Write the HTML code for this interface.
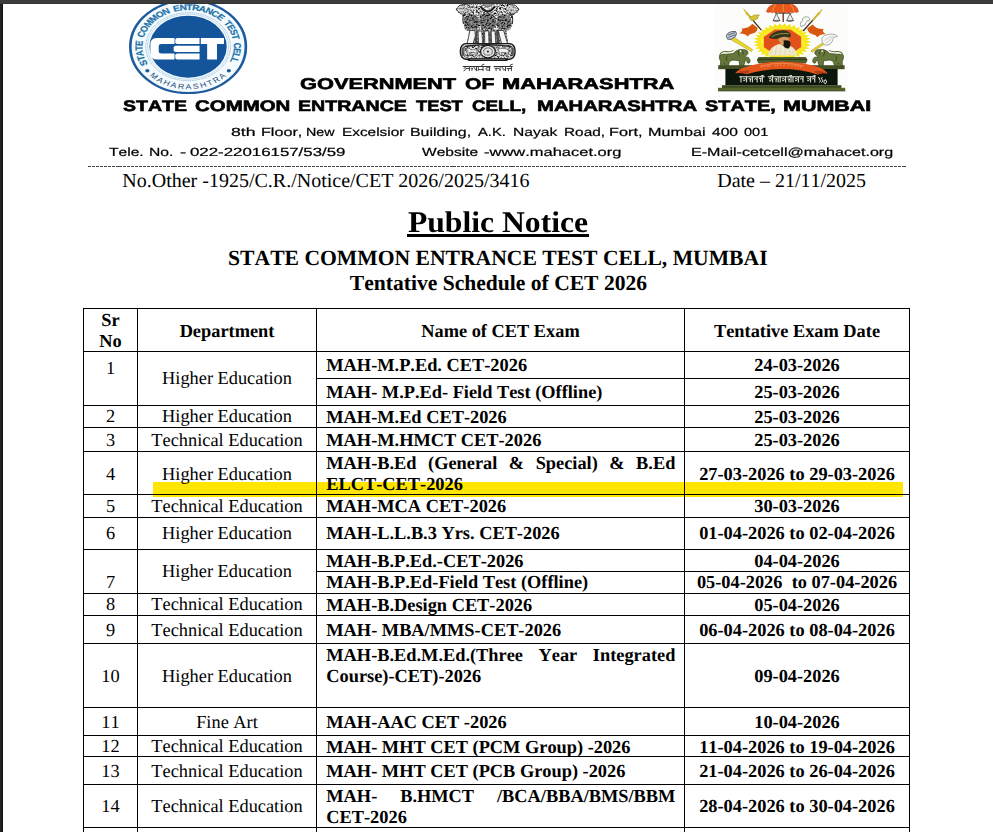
<!DOCTYPE html>
<html><head><meta charset="utf-8"><title>Public Notice - CET 2026</title>
<style>
html,body{margin:0;padding:0;background:#fff;}
body{width:993px;height:832px;position:relative;overflow:hidden;font-family:"Liberation Serif",serif;text-rendering:geometricPrecision;font-kerning:none;}
</style></head><body>
<div style="position:absolute;left:0;top:0;width:993px;height:3px;background:#3c3c3c"></div>
<div style="position:absolute;left:0;top:3px;width:993px;height:1px;background:#323232"></div>
<div style="position:absolute;left:0;top:3px;width:3px;height:1px;background:#3a3a3a"></div>
<div style="position:absolute;left:0;top:4px;width:2px;height:828px;background:#202020"></div>
<div style="position:absolute;left:2px;top:4px;width:1px;height:828px;background:#111"></div>
<svg style="position:absolute;left:120px;top:4px" width="140" height="96" viewBox="120 4 140 96">
<defs>
<path id="cetTop" d="M-32.25,17.51 A36.7,36.7 0 1 1 32.99,16.09"/>
<path id="cetBot" d="M-31.16,29.05 A42.6,42.6 0 0 0 30.90,29.32"/>
</defs>
<g transform="translate(188.1,46.65) scale(1.245,1)">
<circle r="47.6" fill="#f4fbfe"/>
<circle r="46.4" fill="none" stroke="#1d5b9c" stroke-width="2.1"/>
<circle r="34.0" fill="none" stroke="#6a9cc4" stroke-width="0.7" stroke-dasharray="0.8 0.7"/>
<circle r="32.6" fill="none" stroke="#9cc3dc" stroke-width="0.5"/>
<circle r="31.0" fill="#14549a"/>
<text font-family="Liberation Sans, sans-serif" font-weight="bold" font-size="8.1" fill="#2272a8" stroke="#2272a8" stroke-width="0.2" word-spacing="1.6"><textPath href="#cetTop" textLength="148.5" lengthAdjust="spacing">STATE COMMON ENTRANCE TEST CELL</textPath></text>
<text font-family="Liberation Sans, sans-serif" font-size="7.2" fill="#2f4f80"><textPath href="#cetBot" textLength="69" lengthAdjust="spacing">MAHARASHTRA</textPath></text>
<circle cx="-32.72" cy="24.04" r="1.7" fill="#1d5b9c"/>
<circle cx="32.72" cy="24.04" r="1.7" fill="#1d5b9c"/>
<g fill="#fff">
<!-- C -->
<path d="M-10.9,-8.65 H-24.5 Q-30.3,-8.65 -30.3,-3 V7.3 Q-30.3,12.95 -24.5,12.95 H-10.9 V6.9 H-21.5 Q-23.6,6.9 -23.6,4.9 V-0.6 Q-23.6,-2.6 -21.5,-2.6 H-10.9 Z"/>
<!-- E -->
<path d="M-8.6,-8.65 H9.2 V-2.6 H-8.6 Q-10.3,-2.6 -10.3,-4.3 V-6.95 Q-10.3,-8.65 -8.6,-8.65 Z"/>
<path d="M-9.8,-1.0 H9.2 V5.3 H-9.8 Q-11.6,5.3 -11.6,3.5 V0.8 Q-11.6,-1.0 -9.8,-1.0 Z"/>
<path d="M-8.6,6.9 H9.2 V12.95 H-8.6 Q-10.3,12.95 -10.3,11.2 V8.6 Q-10.3,6.9 -8.6,6.9 Z"/>
<!-- T -->
<path d="M10.2,-8.65 H28.8 V-2.6 H23.2 V12.95 H15.3 V-2.6 H10.2 Z"/>
</g>
</g>
</svg>
<svg style="position:absolute;left:450px;top:4px" width="76" height="72" viewBox="450 4 76 72">
<defs>
<filter id="emGrain" x="-5%" y="-5%" width="110%" height="110%" color-interpolation-filters="sRGB">
<feTurbulence type="fractalNoise" baseFrequency="0.55 0.6" numOctaves="2" seed="7" result="n"/>
<feColorMatrix in="n" type="matrix" values="2.6 0 0 0 -0.58  2.6 0 0 0 -0.58  2.6 0 0 0 -0.58  0 0 0 0 1" result="g"/>
<feComposite in="g" in2="SourceAlpha" operator="in" result="gc"/>
<feBlend in="SourceGraphic" in2="gc" mode="multiply"/>
</filter>
<filter id="emSoft" x="-5%" y="-5%" width="110%" height="110%"><feGaussianBlur stdDeviation="0.35"/></filter>
</defs>
<g filter="url(#emSoft)">
<!-- lions / manes -->
<g filter="url(#emGrain)">
<path fill="#ececec" d="M456,9.2 L459.5,5.2 L464,4 L512,4 L515.5,5 L519.2,9.2 L518,12.5 L513.5,15 L512,19 L512.5,24 L510.4,29.5 L506,31.8 L469,31.8 L465,29.5 L463,24 L463.6,19 L462,15 L457.6,12.6 Z"/>
</g>
<!-- darker mane cores -->
<g filter="url(#emGrain)" opacity="0.62">
<ellipse cx="471.4" cy="22.6" rx="7.8" ry="8.8" fill="#555"/>
<ellipse cx="487.7" cy="21.8" rx="8.6" ry="9.6" fill="#555"/>
<ellipse cx="504" cy="22.6" rx="7.8" ry="8.8" fill="#555"/>
<path fill="#999" d="M458,8 l5,-3.2 l5,1 l2,5 l-4,4 l-5,-1.4z M517.4,8 l-5,-3.2 l-5,1 l-2,5 l4,4 l5,-1.4z"/>
</g>
<!-- lighter heads -->
<g fill="#fff" opacity="0.42"><path d="M456.4,9.2 L460,5.4 L466,4.6 L469,9 L466.6,14.6 L460,13.8 Z"/><path d="M518.8,9.2 L515.2,5.4 L509.2,4.6 L506.2,9 L508.6,14.6 L515.2,13.8 Z"/><path d="M479,4 H496.4 L495,10 Q487.7,15 480.4,10 Z"/></g>
<g fill="none" stroke="#2a2a2a" stroke-width="0.8"><path d="M456.2,9.2 L460,5.2 L466.4,4.4 M456.2,9.2 L460.4,13.6 L466.4,14.8 M519,9.2 L515.2,5.2 L508.8,4.4 M519,9.2 L514.8,13.6 L508.8,14.8"/></g>
<!-- central lion face: jaw arc -->
<path d="M480.4,6.2 Q487.7,16.6 495,6.2" fill="none" stroke="#161616" stroke-width="2"/>
<path d="M482.5,4 Q487.7,10 493,4" fill="#9a9a9a" stroke="#333" stroke-width="0.6"/>
<!-- outline hints -->
<path d="M463.4,24 Q461.5,16 466,12 M512.2,24 Q514,16 509.6,12" fill="none" stroke="#222" stroke-width="1"/>
<!-- legs -->
<g filter="url(#emGrain)">
<path fill="#d0d0d0" d="M469.5,29 H506 L508.5,44 H467 Z"/>
</g>
<g fill="#f6f6f6" stroke="#2a2a2a" stroke-width="0.75" stroke-linejoin="round">
<path d="M469.8,30.5 L474.8,30.5 L475.4,36 L473,43.8 L467,43.8 L468.6,37 Z"/>
<path d="M478,31 L481.8,31 L482.6,43.8 L478.6,43.8 Z"/>
<path d="M484.6,31 L488.6,31 L489,43.8 L484.8,43.8 Z"/>
<path d="M491.2,31 L495,31 L495.8,43.8 L491.6,43.8 Z"/>
<path d="M498.4,30.5 L503.6,30.5 L505.6,37 L507.6,43.8 L501.6,43.8 L499.6,36 Z"/>
</g>
<g fill="#4a4a4a"><path d="M475.6,31 h1.6 l0.4,12.4 h-3 z"/><rect x="482.9" y="31.4" width="1.3" height="12"/><rect x="489.4" y="31.4" width="1.4" height="12"/><path d="M496,31 h1.8 l1.8,12.4 h-3 z"/></g>
<!-- abacus -->
<rect x="460.4" y="43.6" width="54.6" height="15.6" rx="5.5" ry="6.5" fill="#d8d8d8" stroke="#1a1a1a" stroke-width="1.4"/>
<g filter="url(#emGrain)"><rect x="462" y="45" width="51.4" height="12.8" rx="4.5" ry="5.5" fill="#dedede"/></g>
<path d="M464.4,46.6 Q487.7,42.6 511,46.6" fill="none" stroke="#222" stroke-width="1.1"/>
<!-- wheel -->
<ellipse cx="487.9" cy="51.6" rx="7.4" ry="6.2" fill="#e6e6e6" stroke="#1d1d1d" stroke-width="1.3"/>
<ellipse cx="487.9" cy="51.6" rx="4.4" ry="3.6" fill="none" stroke="#555" stroke-width="1.5" stroke-dasharray="0.7 0.6"/>
<circle cx="487.9" cy="51.6" r="1.1" fill="#222"/>
<!-- horse (left) & bull (right) -->
<path d="M466.2,48.2 h3.2 l1,1.6 h5.2 l1.2,-1 v6.4 h-1.6 v-3 h-5.6 v3 h-1.6 v-4.6 z" fill="#fafafa" stroke="#333" stroke-width="0.5"/>
<path d="M498.4,48.4 h6.6 l2.6,1 l1.4,2.2 l-1.2,0.6 v3 h-1.6 v-2.6 h-5 v2.6 h-1.6 z" fill="#efefef" stroke="#333" stroke-width="0.5"/>
<rect x="461.6" y="47.4" width="2.2" height="8.6" rx="1" fill="#555"/><rect x="511.6" y="47.4" width="2.2" height="8.6" rx="1" fill="#555"/>
<!-- bottom dark band -->
<rect x="467.4" y="58.2" width="40.6" height="2.7" rx="1.3" fill="#151515"/>
<rect x="470" y="59.2" width="35.4" height="0.6" fill="#8a8a8a"/>
</g>
<!-- motto: satyameva jayate (drawn strokes) -->
<g fill="none" stroke="#303030" stroke-width="0.9" stroke-linecap="round" stroke-linejoin="round" filter="url(#emSoft)">
<path d="M463.1,66.5 H490.2 M494,66.5 H512.3" stroke-width="1.0"/>
<path d="M464,68.1 q1.3,-0.9 2.3,0 q0.5,1 -0.9,1.7 l-1.5,0.9 M466.7,68.5 H469.4 M469.4,66.5 V70.7"/>
<path d="M471,68.3 h2 q-1.6,0.6 -1.2,2.2 M474,67.6 q1.6,0.2 1,1.6 q-0.3,0.8 1.5,0.6 M476.5,66.5 V70.7"/>
<path d="M478.3,66.5 V69.6 H483 M478.3,69.6 q-0.8,0.6 -0.2,1.2 M483,66.5 V70.7 M481.2,66.2 q0.6,-2.1 2.8,-2"/>
<path d="M489.6,67.9 q-3.7,-1 -3.7,1.1 q0,1.8 3.7,0.9 M489.6,66.5 V70.7"/>
<path d="M494.8,68.3 h2.6 q-2.4,0.4 -1.4,2.4 M497.6,68.3 q1.8,0 2.4,1.2 M500,66.5 V70.7"/>
<path d="M502,67.4 q2,0.4 1,2 q-0.4,0.7 2.5,0.4 M505.5,66.5 V70.7"/>
<path d="M507.2,68.5 h2.4 q-2.2,0.6 -1.2,2.3 M509.6,68.5 H511.4 M511.4,66.5 V70.7 M509.8,66.2 q0.4,-2.1 2.6,-2"/>
</g>
</svg>
<svg style="position:absolute;left:712px;top:4px" width="140" height="92" viewBox="712 4 140 92">
<defs><filter id="mhSoft" x="-3%" y="-3%" width="106%" height="106%"><feGaussianBlur stdDeviation="0.45"/></filter>
<radialGradient id="mhSun" cx="50%" cy="50%" r="50%"><stop offset="0.62" stop-color="#fff44a"/><stop offset="0.8" stop-color="#f6e81a"/><stop offset="1" stop-color="#f3e012"/></radialGradient>
</defs>
<g filter="url(#mhSoft)">
<rect x="714.6" y="5.2" width="133" height="87" fill="#fcfcfa"/>
<!-- sun -->
<polygon points="811.2,42.0 806.8,43.5 810.7,45.5 806.0,46.4 809.2,48.8 804.3,49.1 806.9,51.9 801.9,51.6 803.7,54.7 798.9,53.8 799.7,57.1 795.3,55.6 795.2,58.9 791.2,56.9 790.2,60.2 786.8,57.7 785.0,60.8 782.3,58.0 779.6,60.8 777.8,57.7 774.4,60.2 773.4,56.9 769.4,58.9 769.3,55.6 764.9,57.1 765.7,53.8 760.9,54.7 762.7,51.6 757.7,51.9 760.3,49.1 755.4,48.8 758.6,46.4 753.9,45.5 757.8,43.5 753.4,42.0 757.8,40.5 753.9,38.5 758.6,37.6 755.4,35.2 760.3,34.9 757.7,32.1 762.7,32.4 760.9,29.3 765.7,30.2 764.9,26.9 769.3,28.4 769.4,25.1 773.4,27.1 774.4,23.8 777.8,26.3 779.6,23.2 782.3,26.0 785.0,23.2 786.8,26.3 790.2,23.8 791.2,27.1 795.2,25.1 795.3,28.4 799.7,26.9 798.9,30.2 803.7,29.3 801.9,32.4 806.9,32.1 804.3,34.9 809.2,35.2 806.0,37.6 810.7,38.5 806.8,40.5" fill="url(#mhSun)"/>
<!-- left trumpet -->
<path d="M731.5,35.5 L752.6,49.6 L751.4,51.6 L729.4,38.8 Z" fill="#ecd82a" stroke="#a58f1a" stroke-width="0.5"/>
<path d="M726.4,36.2 Q727,31.2 735.6,31.4 Q737.6,33.6 735.2,36.8 Q731,40.6 727.6,39.2 Z" fill="#c9ced6" stroke="#4a5568" stroke-width="0.9"/>
<path d="M728,35 L735,32.6 M728.4,37.4 L735.6,34.6" stroke="#3a4760" stroke-width="0.8" fill="none"/>
<!-- right whisk -->
<path d="M811,50.8 L824.4,41.4 L825.6,43.2 L812,52.4 Z" fill="#e9d42a" stroke="#a58f1a" stroke-width="0.5"/>
<path d="M822.6,42.8 Q819.4,36.2 827.8,34.4 Q835.6,33.2 837.6,36.6 Q833.2,36.4 832.8,39.4 Q832,44.4 826.6,45.2 Q823.6,45.2 822.6,42.8 Z" fill="#f4f4f2" stroke="#9a9a98" stroke-width="0.8"/>
<path d="M824.6,40.6 Q828,36.6 833.6,36.6 M825.8,43 Q829.4,41.6 831,38.6" stroke="#b5b5b2" stroke-width="0.6" fill="none"/>
<!-- left spear + flag -->
<g transform="translate(758,27.4) scale(1.22,1.18) translate(-758,-27.4)"><path d="M742.6,32.6 Q746.2,30.4 744.6,28.2 Q750,28.6 753.4,24.4 L757.6,27.6 Q757.6,31.6 753.6,32.6 Q750.6,33.2 749.6,35.2 Q747.4,32.2 742.6,32.6 Z" fill="#d9580f"/></g>
<path d="M743.6,8.8 L748.2,13.4 L746.6,14.6 Z" fill="#efe032" stroke="#9b8a16" stroke-width="0.4"/>
<path d="M746.8,13.2 L761.4,30.2" stroke="#3a2a12" stroke-width="1.3"/>
<path d="M746.2,12.6 L751.6,18.8" stroke="#d2bf2a" stroke-width="1.6"/>
<path d="M749.4,17.6 Q754.4,13.6 759.4,15 Q757.4,16.6 757.8,18.4 Q753.4,21.6 750.8,20.2 Z" fill="#d6c430" stroke="#8f8a1c" stroke-width="0.5"/>
<!-- right spear + flag -->
<g transform="translate(806.8,28) scale(1.22,1.18) translate(-806.8,-28)"><path d="M822.6,33.4 Q818.8,31 820.6,28.8 Q815,29.2 811.6,25 L807.2,28.2 Q807.4,32.2 811.4,33.2 Q814.4,33.8 815.4,35.8 Q817.8,32.8 822.6,33.4 Z" fill="#d9580f"/></g>
<path d="M822.2,9.2 L817.4,13.8 L819,15 Z" fill="#efe032" stroke="#9b8a16" stroke-width="0.4"/>
<path d="M818.6,13.6 L803.2,31" stroke="#3a2a12" stroke-width="1.3"/>
<path d="M819.2,13 L812.6,20.6" stroke="#d2bf2a" stroke-width="1.6"/>
<path d="M801,26.6 Q799,22.4 802.6,20.6 Q801.6,17.4 806,16.8 Q810.4,16.8 809.6,20.4 Q806.6,20 806.2,22.6 Q805.6,26 801,26.6 Z" fill="#f6f6f4" stroke="#8f8f8c" stroke-width="0.8"/>
<!-- umbrella -->
<path d="M783.2,4 V22" stroke="#6a2c10" stroke-width="1.3"/>
<path d="M766.4,11.6 Q768,4.6 776,4 L790.4,4 Q797.4,5 798.4,11.6 Q796.6,13.4 794.6,11.8 Q792.8,13.6 790.6,12 Q788.6,13.8 786.4,12.2 Q784.6,13.8 782.4,12.2 Q780.4,13.8 778.2,12.2 Q776.2,13.8 774.2,12 Q772.2,13.6 770.2,11.8 Q768.2,13.4 766.4,11.6 Z" fill="#e8581e" stroke="#b23d10" stroke-width="0.5"/>
<path d="M776,4.4 Q773,8 772.4,11.6 M783.2,4.2 V12 M790.4,4.4 Q793.4,8 794,11.6" stroke="#f5b23a" stroke-width="0.7" fill="none"/>
<!-- scales -->
<path d="M775,13.4 H791.6" stroke="#333" stroke-width="0.7"/>
<path d="M776.4,13.6 L773.2,20.4 H779.8 Z M790,13.6 L786.8,20.4 H793.4 Z" fill="#f2f2f0" stroke="#3a3a3a" stroke-width="0.7"/>
<path d="M772.8,20.6 Q776.4,22.6 780.2,20.6 M786.4,20.6 Q790,22.6 793.8,20.6" stroke="#333" stroke-width="0.7" fill="none"/>
<!-- octagon -->
<polygon points="801.5,47.3 790.4,54.8 774.6,54.8 763.5,47.3 763.5,36.7 774.6,29.2 790.4,29.2 801.5,36.7" fill="#e2511c" stroke="#f7d62a" stroke-width="0.9"/>
<!-- portrait -->
<path d="M767.8,55.6 Q769.4,46.6 779,44 L789.6,45.4 Q796.4,48.4 796.8,55.6 Z" fill="#efe9cf"/>
<path d="M770.6,54 L772.4,49 M775,54.6 L776.6,47.4 M780,55 L780.6,46.6 M785,55 L785,47.6 M790,55 L789.4,48.6 M793.6,54.6 L792.6,50.6" stroke="#b8ae84" stroke-width="0.6" stroke-dasharray="0.8 0.8"/>
<path d="M778.6,37.6 Q782.6,34.6 788.4,36.6 Q790.4,40.6 789.2,45.4 Q784.6,47.6 780.8,45 Q780.2,41.6 778.6,40.8 Z" fill="#d49a5e"/>
<path d="M783.4,40.6 Q787.6,39.6 790,41.6 Q791.4,45.6 788.8,48.4 Q784.8,48.8 783.2,45.6 Q784.6,43.4 783.4,40.6 Z" fill="#17130f"/>
<path d="M768.8,37.4 Q772.4,31.4 781,30.4 Q789.6,30 791,35.2 Q790.8,37.4 788.6,37.4 Q783,35.6 778.4,38.4 Q773.6,40.2 768.8,37.4 Z" fill="#33351a"/>
<path d="M772,36.6 Q778,32.6 789,33.8" stroke="#c9b24a" stroke-width="0.7" fill="none"/>
<!-- centre plinth -->
<path d="M758.6,57 H805.8 L807.6,60 L806,63.4 H758.4 L756.8,60 Z" fill="#4d5b29"/>
<path d="M757.6,59.4 H807" stroke="#28320f" stroke-width="0.8"/>
<!-- lions -->
<g id="mhLion"><path d="M720.4,65.6 L720.6,61.4 Q718.6,58.4 719.6,55.6 Q721.6,53.6 726,54.2 L733,53.6 Q735.6,50.6 738.8,49.8 Q742.4,48.8 746.6,50.2 Q748.8,52.2 747.8,54 L746,55.6 Q744.6,56.4 744.2,56.8 L748.4,57.4 Q750.6,59.6 750,62 Q749,64 747.2,62.8 Q747.6,60.6 745.4,60 L743.8,65.6 H739.6 L739.2,60.8 L733,60 Q730.4,60.6 729.4,62 L728.4,65.6 H724.4 L724.6,62.6 L723,65.6 Z" fill="#66773a" stroke="#36421a" stroke-width="0.7"/>
<path d="M719.8,56.6 Q719.4,51.2 726.6,51.6 Q731,52 733.6,50.4" fill="none" stroke="#5d6d30" stroke-width="1.1"/>
<path d="M738.6,50.6 Q737.2,53.6 739.6,56.4 M741.4,50 Q744,51.6 743.2,54.6 M727,55.6 Q725.6,58.6 727,61" fill="none" stroke="#34401a" stroke-width="0.8"/>
<circle cx="740.6" cy="51.2" r="0.9" fill="#e8eadc"/></g>
<use href="#mhLion" transform="translate(1562.8,0) scale(-1,1)"/>
<!-- base -->
<rect x="718.2" y="65.2" width="126.4" height="4" fill="#424f22"/>
<rect x="725.4" y="69" width="112.2" height="16.4" fill="#0f1808"/>
<rect x="722" y="85.2" width="119.4" height="2.8" fill="#3e4a20"/>
<rect x="718" y="87.8" width="127.2" height="2.9" fill="#56642c"/>
<rect x="718" y="90.4" width="127.2" height="0.9" fill="#2c3614"/>
<!-- ribbon -->
<path d="M735.2,73.2 Q738,69.4 744,67.4 Q763,61.4 782,61.4 Q802,61.4 819.4,67.4 Q825.4,69.8 827.8,73.6 Q822,72.4 817.6,74.4 Q800,69 782,69 Q764,69 746.4,74.2 Q741.6,72.4 735.2,73.2 Z" fill="#e5561d"/>
<path d="M735.2,73.2 Q740.6,71.6 746.4,74.2 L750,70.8 Q742,69.8 735.2,73.2 Z M827.8,73.6 Q822.4,72 817.6,74.4 L814,71 Q822,70 827.8,73.6 Z" fill="#b23f14"/>
<!-- ribbon faint text -->
<g stroke="#f0b070" stroke-width="0.6" fill="none">
<path d="M760,66.2 Q771,63.2 782,63.2 Q793,63.2 804,66.2" />
<path d="M762,68 v-1.8 M764.4,67.4 v-1.8 M767,67 q1.2,-1.6 2,0 M770,66.6 v-1.8 M774.4,66 q1.2,-1.4 2.2,0 M778,65.8 v-1.9 M780.6,65.8 v-1.9 M783,65.8 q1.2,-1.6 2.2,0 M788.4,66 v-1.8 M791,66.2 q1.2,-1.4 2,0.2 M795.4,66.8 v-1.8 M798,67.4 v-1.8 M800.6,68 v-1.8"/>
</g>
<!-- white motto on base -->
<g stroke="#f4f4ee" stroke-width="0.95" fill="none" stroke-linecap="round">
<path d="M739.6,76.8 H764.4 M768.2,76.8 H803.6 M806.6,76.8 H815 "/>
<path d="M741,77 v5 M743.6,78.6 q1.6,-1 1.8,1 q-0.2,1.6 -1.8,1.2 M746.6,77 v5 M749,78.8 h2.2 q-1.6,0.8 -1,2.8 M752.4,77 v5 M754.6,79 q1.4,-1.4 2.2,0.2 M757.2,77 v5 M759.4,78.6 h2 q-1.4,1 -0.8,3 M762.4,77 v5 M760.4,76.6 q1.2,-1.8 2.8,-1.2"/>
<path d="M769.4,78.6 q1.8,-1 2,1 q0,1.6 -2,1.4 M772.6,77 v5 M774.8,78.8 h2.2 q-1.4,0.8 -1,3 M778.2,77 v5 M780.2,77 v5 M782.4,78.8 q1.6,-1.2 2,0.6 q0,1.8 -2,1.4 M785.6,77 v5 M787.8,79 h2 q-1.4,1 -0.8,2.8 M791,77 v5 M793,77 v5 M795.4,78.6 q1.6,-1 1.8,0.8 q-0.2,1.8 -1.8,1.4 M798.4,77 v5 M800.4,78.8 q1.6,-1 2.2,0.6 M803,77 v5 M788.6,76.6 q1.4,-1.8 3,-1.2 M770.4,76.6 q1.2,-1.8 2.6,-1.2"/>
<path d="M807.6,78.6 q1.6,-1 1.8,1 q-0.2,1.6 -1.8,1.2 M810.6,77 v5 M812.4,78.8 q1.4,-1.2 2,0.4 M814.8,77 v5 M812.6,76.6 q1.4,-1.8 2.8,-1"/>
<path d="M818.4,77.6 q2.2,0 1,2 q2,0.4 0.2,2.6 M822,77.4 q-1.6,1.6 0.4,2.4 q1.6,1 -0.6,2.4 M825.2,79.8 a1.3,1.9 0 1 0 0.1,0"/>
</g>
</g>
</svg>
<div style="position:absolute;top:75.33px;line-height:19px;height:19px;font-family:'Liberation Sans',sans-serif;font-size:15.5px;white-space:pre;color:#000;font-weight:bold;left:300.05px;transform:scale(1.4056,1.0);transform-origin:left 14.87px;-webkit-text-stroke:0.6px #000;">GOVERNMENT</div>
<div style="position:absolute;top:75.33px;line-height:19px;height:19px;font-family:'Liberation Sans',sans-serif;font-size:15.5px;white-space:pre;color:#000;font-weight:bold;left:464.76px;transform:scale(1.365,1.0);transform-origin:left 14.87px;-webkit-text-stroke:0.6px #000;">OF</div>
<div style="position:absolute;top:75.33px;line-height:19px;height:19px;font-family:'Liberation Sans',sans-serif;font-size:15.5px;white-space:pre;color:#000;font-weight:bold;left:502.01px;transform:scale(1.4096,1.0);transform-origin:left 14.87px;-webkit-text-stroke:0.6px #000;">MAHARASHTRA</div>
<div style="position:absolute;top:97.70px;line-height:18px;height:18px;font-family:'Liberation Sans',sans-serif;font-size:15.3px;white-space:pre;color:#000;font-weight:bold;left:122.59px;transform:scale(1.2751,1.0);transform-origin:left 14.30px;-webkit-text-stroke:0.6px #000;">STATE</div>
<div style="position:absolute;top:97.70px;line-height:18px;height:18px;font-family:'Liberation Sans',sans-serif;font-size:15.3px;white-space:pre;color:#000;font-weight:bold;left:194.68px;transform:scale(1.3361,1.0);transform-origin:left 14.30px;-webkit-text-stroke:0.6px #000;">COMMON</div>
<div style="position:absolute;top:97.70px;line-height:18px;height:18px;font-family:'Liberation Sans',sans-serif;font-size:15.3px;white-space:pre;color:#000;font-weight:bold;left:298.01px;transform:scale(1.2815,1.0);transform-origin:left 14.30px;-webkit-text-stroke:0.6px #000;">ENTRANCE</div>
<div style="position:absolute;top:97.70px;line-height:18px;height:18px;font-family:'Liberation Sans',sans-serif;font-size:15.3px;white-space:pre;color:#000;font-weight:bold;left:416.08px;transform:scale(1.1964,1.0);transform-origin:left 14.30px;-webkit-text-stroke:0.6px #000;">TEST</div>
<div style="position:absolute;top:97.70px;line-height:18px;height:18px;font-family:'Liberation Sans',sans-serif;font-size:15.3px;white-space:pre;color:#000;font-weight:bold;left:472.12px;transform:scale(1.2286,1.0);transform-origin:left 14.30px;-webkit-text-stroke:0.6px #000;">CELL,</div>
<div style="position:absolute;top:97.70px;line-height:18px;height:18px;font-family:'Liberation Sans',sans-serif;font-size:15.3px;white-space:pre;color:#000;font-weight:bold;left:536.68px;transform:scale(1.3263,1.0);transform-origin:left 14.30px;-webkit-text-stroke:0.6px #000;">MAHARASHTRA</div>
<div style="position:absolute;top:97.70px;line-height:18px;height:18px;font-family:'Liberation Sans',sans-serif;font-size:15.3px;white-space:pre;color:#000;font-weight:bold;left:705.49px;transform:scale(1.3009,1.0);transform-origin:left 14.30px;-webkit-text-stroke:0.6px #000;">STATE,</div>
<div style="position:absolute;top:97.70px;line-height:18px;height:18px;font-family:'Liberation Sans',sans-serif;font-size:15.3px;white-space:pre;color:#000;font-weight:bold;left:783.23px;transform:scale(1.4039,1.0);transform-origin:left 14.30px;-webkit-text-stroke:0.6px #000;">MUMBAI</div>
<div style="position:absolute;top:124.61px;line-height:14px;height:14px;font-family:'Liberation Sans',sans-serif;font-size:11.8px;white-space:pre;color:#000;left:231.46px;transform:scale(1.4978,1.0);transform-origin:left 11.09px;-webkit-text-stroke:0.22px #000;">8th</div>
<div style="position:absolute;top:124.61px;line-height:14px;height:14px;font-family:'Liberation Sans',sans-serif;font-size:11.8px;white-space:pre;color:#000;left:260.56px;transform:scale(1.3696,1.0);transform-origin:left 11.09px;-webkit-text-stroke:0.22px #000;">Floor,</div>
<div style="position:absolute;top:124.61px;line-height:14px;height:14px;font-family:'Liberation Sans',sans-serif;font-size:11.8px;white-space:pre;color:#000;left:306.29px;transform:scale(1.2057,1.0);transform-origin:left 11.09px;-webkit-text-stroke:0.22px #000;">New</div>
<div style="position:absolute;top:124.61px;line-height:14px;height:14px;font-family:'Liberation Sans',sans-serif;font-size:11.8px;white-space:pre;color:#000;left:342.31px;transform:scale(1.3024,1.0);transform-origin:left 11.09px;-webkit-text-stroke:0.22px #000;">Excelsior</div>
<div style="position:absolute;top:124.61px;line-height:14px;height:14px;font-family:'Liberation Sans',sans-serif;font-size:11.8px;white-space:pre;color:#000;left:409.97px;transform:scale(1.3493,1.0);transform-origin:left 11.09px;-webkit-text-stroke:0.22px #000;">Building,</div>
<div style="position:absolute;top:124.61px;line-height:14px;height:14px;font-family:'Liberation Sans',sans-serif;font-size:11.8px;white-space:pre;color:#000;left:478.14px;transform:scale(1.2522,1.0);transform-origin:left 11.09px;-webkit-text-stroke:0.22px #000;">A.K.</div>
<div style="position:absolute;top:124.61px;line-height:14px;height:14px;font-family:'Liberation Sans',sans-serif;font-size:11.8px;white-space:pre;color:#000;left:513.10px;transform:scale(1.3215,1.0);transform-origin:left 11.09px;-webkit-text-stroke:0.22px #000;">Nayak</div>
<div style="position:absolute;top:124.61px;line-height:14px;height:14px;font-family:'Liberation Sans',sans-serif;font-size:11.8px;white-space:pre;color:#000;left:563.81px;transform:scale(1.3018,1.0);transform-origin:left 11.09px;-webkit-text-stroke:0.22px #000;">Road,</div>
<div style="position:absolute;top:124.61px;line-height:14px;height:14px;font-family:'Liberation Sans',sans-serif;font-size:11.8px;white-space:pre;color:#000;left:609.45px;transform:scale(1.378,1.0);transform-origin:left 11.09px;-webkit-text-stroke:0.22px #000;">Fort,</div>
<div style="position:absolute;top:124.61px;line-height:14px;height:14px;font-family:'Liberation Sans',sans-serif;font-size:11.8px;white-space:pre;color:#000;left:648.36px;transform:scale(1.3725,1.0);transform-origin:left 11.09px;-webkit-text-stroke:0.22px #000;">Mumbai</div>
<div style="position:absolute;top:124.61px;line-height:14px;height:14px;font-family:'Liberation Sans',sans-serif;font-size:11.8px;white-space:pre;color:#000;left:711.93px;transform:scale(1.3198,1.0);transform-origin:left 11.09px;-webkit-text-stroke:0.22px #000;">400</div>
<div style="position:absolute;top:124.61px;line-height:14px;height:14px;font-family:'Liberation Sans',sans-serif;font-size:11.8px;white-space:pre;color:#000;left:744.30px;transform:scale(1.231,1.0);transform-origin:left 11.09px;-webkit-text-stroke:0.22px #000;">001</div>
<div style="position:absolute;top:145.21px;line-height:14px;height:14px;font-family:'Liberation Sans',sans-serif;font-size:11.8px;white-space:pre;color:#000;left:108.83px;transform:scale(1.3224,1.0);transform-origin:left 11.09px;-webkit-text-stroke:0.22px #000;">Tele.</div>
<div style="position:absolute;top:145.21px;line-height:14px;height:14px;font-family:'Liberation Sans',sans-serif;font-size:11.8px;white-space:pre;color:#000;left:148.79px;transform:scale(1.3251,1.0);transform-origin:left 11.09px;-webkit-text-stroke:0.22px #000;">No.</div>
<div style="position:absolute;top:145.21px;line-height:14px;height:14px;font-family:'Liberation Sans',sans-serif;font-size:11.8px;white-space:pre;color:#000;left:179.83px;transform:scale(1.5773,1.0);transform-origin:left 11.09px;-webkit-text-stroke:0.22px #000;">-</div>
<div style="position:absolute;top:145.21px;line-height:14px;height:14px;font-family:'Liberation Sans',sans-serif;font-size:11.8px;white-space:pre;color:#000;left:190.45px;transform:scale(1.4273,1.0);transform-origin:left 11.09px;-webkit-text-stroke:0.22px #000;">022-22016157/53/59</div>
<div style="position:absolute;top:145.21px;line-height:14px;height:14px;font-family:'Liberation Sans',sans-serif;font-size:11.8px;white-space:pre;color:#000;left:421.94px;transform:scale(1.3178,1.0);transform-origin:left 11.09px;-webkit-text-stroke:0.22px #000;">Website</div>
<div style="position:absolute;top:145.21px;line-height:14px;height:14px;font-family:'Liberation Sans',sans-serif;font-size:11.8px;white-space:pre;color:#000;left:484.19px;transform:scale(1.3976,1.0);transform-origin:left 11.09px;-webkit-text-stroke:0.22px #000;">-www.mahacet.org</div>
<div style="position:absolute;top:145.21px;line-height:14px;height:14px;font-family:'Liberation Sans',sans-serif;font-size:11.8px;white-space:pre;color:#000;left:690.66px;transform:scale(1.3626,1.0);transform-origin:left 11.09px;-webkit-text-stroke:0.22px #000;">E-Mail-cetcell@mahacet.org</div>
<div style="position:absolute;left:87.6px;top:166px;width:818.6px;height:1px;background:repeating-linear-gradient(90deg,#454545 0,#454545 3.0px,rgba(0,0,0,0) 3.0px,rgba(0,0,0,0) 3.93px)"></div>
<div style="position:absolute;top:168.95px;line-height:24px;height:24px;font-family:'Liberation Serif',serif;font-size:20px;white-space:pre;color:#000;left:122.30px;">No.Other -1925/C.R./Notice/CET 2026/2025/3416</div>
<div style="position:absolute;top:168.95px;line-height:24px;height:24px;font-family:'Liberation Serif',serif;font-size:20px;white-space:pre;color:#000;left:717.20px;">Date – 21/11/2025</div>
<div style="position:absolute;top:204.57px;line-height:36px;height:36px;font-family:'Liberation Serif',serif;font-size:30px;white-space:pre;color:#000;font-weight:bold;left:-2.15px;width:1000px;text-align:center;transform:scale(1.055,1.0);transform-origin:center 28.12px;">Public Notice</div>
<div style="position:absolute;left:407px;top:234px;width:182px;height:3px;background:#000"></div>
<div style="position:absolute;top:244.50px;line-height:26px;height:26px;font-family:'Liberation Serif',serif;font-size:21.64px;white-space:pre;color:#000;font-weight:bold;left:-2.20px;width:1000px;text-align:center;">STATE COMMON ENTRANCE TEST CELL, MUMBAI</div>
<div style="position:absolute;top:269.52px;line-height:26px;height:26px;font-family:'Liberation Serif',serif;font-size:21.58px;white-space:pre;color:#000;font-weight:bold;left:-1.60px;width:1000px;text-align:center;">Tentative Schedule of CET 2026</div>
<div style="position:absolute;left:153px;top:482.3px;width:750px;height:15.2px;background:#ffe600"></div>
<div style="position:absolute;left:83px;top:308px;width:827px;height:1px;background:#000"></div>
<div style="position:absolute;left:83px;top:351px;width:827px;height:1px;background:#000"></div>
<div style="position:absolute;left:83px;top:405px;width:827px;height:1px;background:#000"></div>
<div style="position:absolute;left:83px;top:427px;width:827px;height:1px;background:#000"></div>
<div style="position:absolute;left:83px;top:451px;width:827px;height:1px;background:#000"></div>
<div style="position:absolute;left:83px;top:494px;width:827px;height:1px;background:#000"></div>
<div style="position:absolute;left:83px;top:517px;width:827px;height:1px;background:#000"></div>
<div style="position:absolute;left:83px;top:549px;width:827px;height:1px;background:#000"></div>
<div style="position:absolute;left:83px;top:593px;width:827px;height:1px;background:#000"></div>
<div style="position:absolute;left:83px;top:615px;width:827px;height:1px;background:#000"></div>
<div style="position:absolute;left:83px;top:643px;width:827px;height:1px;background:#000"></div>
<div style="position:absolute;left:83px;top:707px;width:827px;height:1px;background:#000"></div>
<div style="position:absolute;left:83px;top:735px;width:827px;height:1px;background:#000"></div>
<div style="position:absolute;left:83px;top:756px;width:827px;height:1px;background:#000"></div>
<div style="position:absolute;left:83px;top:784px;width:827px;height:1px;background:#000"></div>
<div style="position:absolute;left:83px;top:827px;width:827px;height:1px;background:#000"></div>
<div style="position:absolute;left:316px;top:378px;width:594px;height:1px;background:#000"></div>
<div style="position:absolute;left:316px;top:571px;width:594px;height:1px;background:#000"></div>
<div style="position:absolute;left:83px;top:308px;width:1px;height:524px;background:#000"></div>
<div style="position:absolute;left:137px;top:308px;width:1px;height:524px;background:#000"></div>
<div style="position:absolute;left:316px;top:308px;width:1px;height:524px;background:#000"></div>
<div style="position:absolute;left:684px;top:308px;width:1px;height:524px;background:#000"></div>
<div style="position:absolute;left:909px;top:308px;width:1px;height:524px;background:#000"></div>
<div style="position:absolute;top:308.91px;line-height:22px;height:22px;font-family:'Liberation Serif',serif;font-size:18.35px;white-space:pre;color:#000;font-weight:bold;left:-389.50px;width:1000px;text-align:center;">Sr</div>
<div style="position:absolute;top:329.71px;line-height:22px;height:22px;font-family:'Liberation Serif',serif;font-size:18.35px;white-space:pre;color:#000;font-weight:bold;left:-389.50px;width:1000px;text-align:center;">No</div>
<div style="position:absolute;top:319.81px;line-height:22px;height:22px;font-family:'Liberation Serif',serif;font-size:18.35px;white-space:pre;color:#000;font-weight:bold;left:-273.00px;width:1000px;text-align:center;">Department</div>
<div style="position:absolute;top:319.81px;line-height:22px;height:22px;font-family:'Liberation Serif',serif;font-size:18.35px;white-space:pre;color:#000;font-weight:bold;left:0.50px;width:1000px;text-align:center;">Name of CET Exam</div>
<div style="position:absolute;top:319.81px;line-height:22px;height:22px;font-family:'Liberation Serif',serif;font-size:18.35px;white-space:pre;color:#000;font-weight:bold;left:297.00px;width:1000px;text-align:center;">Tentative Exam Date</div>
<div style="position:absolute;top:356.71px;line-height:22px;height:22px;font-family:'Liberation Serif',serif;font-size:18.35px;white-space:pre;color:#000;left:-389.50px;width:1000px;text-align:center;">1</div>
<div style="position:absolute;top:405.01px;line-height:22px;height:22px;font-family:'Liberation Serif',serif;font-size:18.35px;white-space:pre;color:#000;left:-389.50px;width:1000px;text-align:center;">2</div>
<div style="position:absolute;top:428.81px;line-height:22px;height:22px;font-family:'Liberation Serif',serif;font-size:18.35px;white-space:pre;color:#000;left:-389.50px;width:1000px;text-align:center;">3</div>
<div style="position:absolute;top:462.81px;line-height:22px;height:22px;font-family:'Liberation Serif',serif;font-size:18.35px;white-space:pre;color:#000;left:-389.50px;width:1000px;text-align:center;">4</div>
<div style="position:absolute;top:494.71px;line-height:22px;height:22px;font-family:'Liberation Serif',serif;font-size:18.35px;white-space:pre;color:#000;left:-389.50px;width:1000px;text-align:center;">5</div>
<div style="position:absolute;top:521.61px;line-height:22px;height:22px;font-family:'Liberation Serif',serif;font-size:18.35px;white-space:pre;color:#000;left:-389.50px;width:1000px;text-align:center;">6</div>
<div style="position:absolute;top:571.01px;line-height:22px;height:22px;font-family:'Liberation Serif',serif;font-size:18.35px;white-space:pre;color:#000;left:-389.50px;width:1000px;text-align:center;">7</div>
<div style="position:absolute;top:592.81px;line-height:22px;height:22px;font-family:'Liberation Serif',serif;font-size:18.35px;white-space:pre;color:#000;left:-389.50px;width:1000px;text-align:center;">8</div>
<div style="position:absolute;top:618.71px;line-height:22px;height:22px;font-family:'Liberation Serif',serif;font-size:18.35px;white-space:pre;color:#000;left:-389.50px;width:1000px;text-align:center;">9</div>
<div style="position:absolute;top:664.71px;line-height:22px;height:22px;font-family:'Liberation Serif',serif;font-size:18.35px;white-space:pre;color:#000;left:-389.50px;width:1000px;text-align:center;">10</div>
<div style="position:absolute;top:710.61px;line-height:22px;height:22px;font-family:'Liberation Serif',serif;font-size:18.35px;white-space:pre;color:#000;left:-389.50px;width:1000px;text-align:center;">11</div>
<div style="position:absolute;top:734.71px;line-height:22px;height:22px;font-family:'Liberation Serif',serif;font-size:18.35px;white-space:pre;color:#000;left:-389.50px;width:1000px;text-align:center;">12</div>
<div style="position:absolute;top:760.11px;line-height:22px;height:22px;font-family:'Liberation Serif',serif;font-size:18.35px;white-space:pre;color:#000;left:-389.50px;width:1000px;text-align:center;">13</div>
<div style="position:absolute;top:795.01px;line-height:22px;height:22px;font-family:'Liberation Serif',serif;font-size:18.35px;white-space:pre;color:#000;left:-389.50px;width:1000px;text-align:center;">14</div>
<div style="position:absolute;top:366.61px;line-height:22px;height:22px;font-family:'Liberation Serif',serif;font-size:18.35px;white-space:pre;color:#000;left:-273.00px;width:1000px;text-align:center;">Higher Education</div>
<div style="position:absolute;top:405.01px;line-height:22px;height:22px;font-family:'Liberation Serif',serif;font-size:18.35px;white-space:pre;color:#000;left:-273.00px;width:1000px;text-align:center;">Higher Education</div>
<div style="position:absolute;top:428.81px;line-height:22px;height:22px;font-family:'Liberation Serif',serif;font-size:18.35px;white-space:pre;color:#000;left:-273.00px;width:1000px;text-align:center;">Technical Education</div>
<div style="position:absolute;top:462.81px;line-height:22px;height:22px;font-family:'Liberation Serif',serif;font-size:18.35px;white-space:pre;color:#000;left:-273.00px;width:1000px;text-align:center;">Higher Education</div>
<div style="position:absolute;top:494.71px;line-height:22px;height:22px;font-family:'Liberation Serif',serif;font-size:18.35px;white-space:pre;color:#000;left:-273.00px;width:1000px;text-align:center;">Technical Education</div>
<div style="position:absolute;top:521.61px;line-height:22px;height:22px;font-family:'Liberation Serif',serif;font-size:18.35px;white-space:pre;color:#000;left:-273.00px;width:1000px;text-align:center;">Higher Education</div>
<div style="position:absolute;top:559.71px;line-height:22px;height:22px;font-family:'Liberation Serif',serif;font-size:18.35px;white-space:pre;color:#000;left:-273.00px;width:1000px;text-align:center;">Higher Education</div>
<div style="position:absolute;top:592.81px;line-height:22px;height:22px;font-family:'Liberation Serif',serif;font-size:18.35px;white-space:pre;color:#000;left:-273.00px;width:1000px;text-align:center;">Technical Education</div>
<div style="position:absolute;top:618.71px;line-height:22px;height:22px;font-family:'Liberation Serif',serif;font-size:18.35px;white-space:pre;color:#000;left:-273.00px;width:1000px;text-align:center;">Technical Education</div>
<div style="position:absolute;top:664.71px;line-height:22px;height:22px;font-family:'Liberation Serif',serif;font-size:18.35px;white-space:pre;color:#000;left:-273.00px;width:1000px;text-align:center;">Higher Education</div>
<div style="position:absolute;top:710.61px;line-height:22px;height:22px;font-family:'Liberation Serif',serif;font-size:18.35px;white-space:pre;color:#000;left:-273.00px;width:1000px;text-align:center;">Fine Art</div>
<div style="position:absolute;top:734.71px;line-height:22px;height:22px;font-family:'Liberation Serif',serif;font-size:18.35px;white-space:pre;color:#000;left:-273.00px;width:1000px;text-align:center;">Technical Education</div>
<div style="position:absolute;top:760.11px;line-height:22px;height:22px;font-family:'Liberation Serif',serif;font-size:18.35px;white-space:pre;color:#000;left:-273.00px;width:1000px;text-align:center;">Technical Education</div>
<div style="position:absolute;top:795.01px;line-height:22px;height:22px;font-family:'Liberation Serif',serif;font-size:18.35px;white-space:pre;color:#000;left:-273.00px;width:1000px;text-align:center;">Technical Education</div>
<div style="position:absolute;top:353.61px;line-height:22px;height:22px;font-family:'Liberation Serif',serif;font-size:18.35px;white-space:pre;color:#000;font-weight:bold;left:326.30px;">MAH-M.P.Ed. CET-2026</div>
<div style="position:absolute;top:380.61px;line-height:22px;height:22px;font-family:'Liberation Serif',serif;font-size:18.35px;white-space:pre;color:#000;font-weight:bold;left:326.30px;">MAH- M.P.Ed- Field Test (Offline)</div>
<div style="position:absolute;top:406.01px;line-height:22px;height:22px;font-family:'Liberation Serif',serif;font-size:18.35px;white-space:pre;color:#000;font-weight:bold;left:326.30px;">MAH-M.Ed CET-2026</div>
<div style="position:absolute;top:429.01px;line-height:22px;height:22px;font-family:'Liberation Serif',serif;font-size:18.35px;white-space:pre;color:#000;font-weight:bold;left:326.30px;">MAH-M.HMCT CET-2026</div>
<div style="position:absolute;top:473.31px;line-height:22px;height:22px;font-family:'Liberation Serif',serif;font-size:18.35px;white-space:pre;color:#000;font-weight:bold;left:326.30px;">ELCT-CET-2026</div>
<div style="position:absolute;top:494.71px;line-height:22px;height:22px;font-family:'Liberation Serif',serif;font-size:18.35px;white-space:pre;color:#000;font-weight:bold;left:326.30px;">MAH-MCA CET-2026</div>
<div style="position:absolute;top:521.61px;line-height:22px;height:22px;font-family:'Liberation Serif',serif;font-size:18.35px;white-space:pre;color:#000;font-weight:bold;left:326.30px;">MAH-L.L.B.3 Yrs. CET-2026</div>
<div style="position:absolute;top:550.01px;line-height:22px;height:22px;font-family:'Liberation Serif',serif;font-size:18.35px;white-space:pre;color:#000;font-weight:bold;left:326.30px;">MAH-B.P.Ed.-CET-2026</div>
<div style="position:absolute;top:570.61px;line-height:22px;height:22px;font-family:'Liberation Serif',serif;font-size:18.35px;white-space:pre;color:#000;font-weight:bold;left:326.30px;">MAH-B.P.Ed-Field Test (Offline)</div>
<div style="position:absolute;top:593.71px;line-height:22px;height:22px;font-family:'Liberation Serif',serif;font-size:18.35px;white-space:pre;color:#000;font-weight:bold;left:326.30px;">MAH-B.Design CET-2026</div>
<div style="position:absolute;top:618.71px;line-height:22px;height:22px;font-family:'Liberation Serif',serif;font-size:18.35px;white-space:pre;color:#000;font-weight:bold;left:326.30px;">MAH- MBA/MMS-CET-2026</div>
<div style="position:absolute;top:664.71px;line-height:22px;height:22px;font-family:'Liberation Serif',serif;font-size:18.35px;white-space:pre;color:#000;font-weight:bold;left:326.30px;">Course)-CET)-2026</div>
<div style="position:absolute;top:711.01px;line-height:22px;height:22px;font-family:'Liberation Serif',serif;font-size:18.35px;white-space:pre;color:#000;font-weight:bold;left:326.30px;">MAH-AAC CET -2026</div>
<div style="position:absolute;top:736.01px;line-height:22px;height:22px;font-family:'Liberation Serif',serif;font-size:18.35px;white-space:pre;color:#000;font-weight:bold;left:326.30px;">MAH- MHT CET (PCM Group) -2026</div>
<div style="position:absolute;top:759.81px;line-height:22px;height:22px;font-family:'Liberation Serif',serif;font-size:18.35px;white-space:pre;color:#000;font-weight:bold;left:326.30px;">MAH- MHT CET (PCB Group) -2026</div>
<div style="position:absolute;top:806.01px;line-height:22px;height:22px;font-family:'Liberation Serif',serif;font-size:18.35px;white-space:pre;color:#000;font-weight:bold;left:326.30px;">CET-2026</div>
<div style="position:absolute;left:326.30px;width:349.10px;top:451.61px;line-height:22px;height:22px;overflow:hidden;font-family:'Liberation Serif',serif;font-size:18.35px;color:#000;text-align:justify;text-align-last:justify;white-space:normal;font-weight:bold;">MAH-B.Ed (General &amp; Special) &amp; B.Ed</div>
<div style="position:absolute;left:326.30px;width:349.10px;top:644.01px;line-height:22px;height:22px;overflow:hidden;font-family:'Liberation Serif',serif;font-size:18.35px;color:#000;text-align:justify;text-align-last:justify;white-space:normal;font-weight:bold;">MAH-B.Ed.M.Ed.(Three Year Integrated</div>
<div style="position:absolute;left:326.30px;width:349.10px;top:784.51px;line-height:22px;height:22px;overflow:hidden;font-family:'Liberation Serif',serif;font-size:18.35px;color:#000;text-align:justify;text-align-last:justify;white-space:normal;font-weight:bold;">MAH- B.HMCT /BCA/BBA/BMS/BBM</div>
<div style="position:absolute;top:353.91px;line-height:22px;height:22px;font-family:'Liberation Serif',serif;font-size:18.35px;white-space:pre;color:#000;font-weight:bold;left:297.00px;width:1000px;text-align:center;">24-03-2026</div>
<div style="position:absolute;top:380.61px;line-height:22px;height:22px;font-family:'Liberation Serif',serif;font-size:18.35px;white-space:pre;color:#000;font-weight:bold;left:297.00px;width:1000px;text-align:center;">25-03-2026</div>
<div style="position:absolute;top:405.81px;line-height:22px;height:22px;font-family:'Liberation Serif',serif;font-size:18.35px;white-space:pre;color:#000;font-weight:bold;left:297.00px;width:1000px;text-align:center;">25-03-2026</div>
<div style="position:absolute;top:429.11px;line-height:22px;height:22px;font-family:'Liberation Serif',serif;font-size:18.35px;white-space:pre;color:#000;font-weight:bold;left:297.00px;width:1000px;text-align:center;">25-03-2026</div>
<div style="position:absolute;top:463.01px;line-height:22px;height:22px;font-family:'Liberation Serif',serif;font-size:18.35px;white-space:pre;color:#000;font-weight:bold;left:297.00px;width:1000px;text-align:center;">27-03-2026 to 29-03-2026</div>
<div style="position:absolute;top:494.51px;line-height:22px;height:22px;font-family:'Liberation Serif',serif;font-size:18.35px;white-space:pre;color:#000;font-weight:bold;left:297.00px;width:1000px;text-align:center;">30-03-2026</div>
<div style="position:absolute;top:521.61px;line-height:22px;height:22px;font-family:'Liberation Serif',serif;font-size:18.35px;white-space:pre;color:#000;font-weight:bold;left:297.00px;width:1000px;text-align:center;">01-04-2026 to 02-04-2026</div>
<div style="position:absolute;top:550.01px;line-height:22px;height:22px;font-family:'Liberation Serif',serif;font-size:18.35px;white-space:pre;color:#000;font-weight:bold;left:297.00px;width:1000px;text-align:center;">04-04-2026</div>
<div style="position:absolute;top:570.51px;line-height:22px;height:22px;font-family:'Liberation Serif',serif;font-size:18.35px;white-space:pre;color:#000;font-weight:bold;left:297.00px;width:1000px;text-align:center;">05-04-2026  to 07-04-2026</div>
<div style="position:absolute;top:593.61px;line-height:22px;height:22px;font-family:'Liberation Serif',serif;font-size:18.35px;white-space:pre;color:#000;font-weight:bold;left:297.00px;width:1000px;text-align:center;">05-04-2026</div>
<div style="position:absolute;top:618.61px;line-height:22px;height:22px;font-family:'Liberation Serif',serif;font-size:18.35px;white-space:pre;color:#000;font-weight:bold;left:297.00px;width:1000px;text-align:center;">06-04-2026 to 08-04-2026</div>
<div style="position:absolute;top:664.81px;line-height:22px;height:22px;font-family:'Liberation Serif',serif;font-size:18.35px;white-space:pre;color:#000;font-weight:bold;left:297.00px;width:1000px;text-align:center;">09-04-2026</div>
<div style="position:absolute;top:710.61px;line-height:22px;height:22px;font-family:'Liberation Serif',serif;font-size:18.35px;white-space:pre;color:#000;font-weight:bold;left:297.00px;width:1000px;text-align:center;">10-04-2026</div>
<div style="position:absolute;top:736.01px;line-height:22px;height:22px;font-family:'Liberation Serif',serif;font-size:18.35px;white-space:pre;color:#000;font-weight:bold;left:297.00px;width:1000px;text-align:center;">11-04-2026 to 19-04-2026</div>
<div style="position:absolute;top:760.11px;line-height:22px;height:22px;font-family:'Liberation Serif',serif;font-size:18.35px;white-space:pre;color:#000;font-weight:bold;left:297.00px;width:1000px;text-align:center;">21-04-2026 to 26-04-2026</div>
<div style="position:absolute;top:795.01px;line-height:22px;height:22px;font-family:'Liberation Serif',serif;font-size:18.35px;white-space:pre;color:#000;font-weight:bold;left:297.00px;width:1000px;text-align:center;">28-04-2026 to 30-04-2026</div>
</body></html>
